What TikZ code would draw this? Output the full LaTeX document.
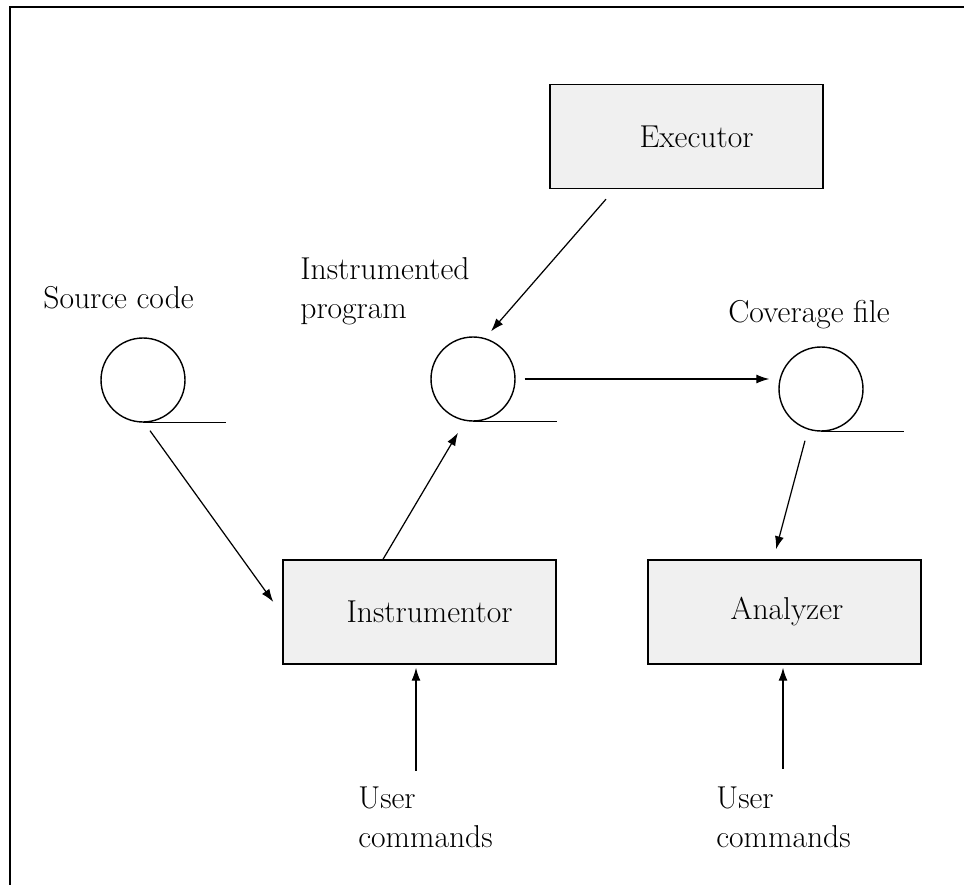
\documentclass[tikz,border=0pt]{standalone}
\usepackage{fontspec}
\usetikzlibrary{arrows.meta}
\tikzset{>={Latex[length=2.6mm,width=1.8mm]}}
\definecolor{boxgray}{RGB}{240,240,240}
\tikzstyle{procbox}=[draw,fill=boxgray,line width=0.8pt,minimum width=5.46cm,minimum height=2.08cm,inner sep=0pt]
\tikzstyle{reel}=[draw,circle,line width=0.8pt,minimum size=1.68cm,inner sep=0pt]
\tikzstyle{tape}=[line width=0.8pt]
\tikzstyle{flow}=[->,line width=0.7pt]
\tikzstyle{caption}=[align=left,inner sep=0pt,anchor=west]

\begin{document}
\begin{tikzpicture}[x=0.02cm,y=-0.02cm,font=\fontsize{18}{22}\selectfont]
    \useasboundingbox (0,0) rectangle (964,885);
    % frame, only the top and left edges fall inside
    \draw[line width=1.2pt] (10,885) -- (10,7) -- (964,7);

    \node[procbox] (exec) at (686.5,136.5) {\hspace*{0.4cm}Executor};
    \node[procbox] (instr) at (419.5,612) {\hspace*{0.4cm}Instrumentor};
    \node[procbox] (anal) at (784.5,612) {\hspace*{0.1cm}Analyzer};

    \node[reel] (src) at (143,380) {};
    \node[reel] (prog) at (473,379) {};
    \node[reel] (cov) at (821,389) {};
    \draw[tape] (src.south) -- ++(83,0);
    \draw[tape] (prog.south) -- ++(84,0);
    \draw[tape] (cov.south) -- ++(83,0);

    \node[caption] (srclbl) at (43,298) {Source code};
    \node[caption] (proglbl) at (300,291) {Instrumented\\program};
    \node[caption] (covlbl) at (728,315) {Coverage file};
    \node[caption] (user1) at (358,817) {User\\commands};
    \node[caption] (user2) at (716,817) {User\\commands};

    \draw[flow] ([shift={(7,8)}]src.south) -- ([shift={(-9,-10)}]instr.west);
    \draw[flow] ([shift={(-36.5,0)}]instr.north) -- ([shift={(-15,11)}]prog.south);
    \draw[flow] ([shift={(-80.5,10)}]exec.south) -- ([shift={(18,-5)}]prog.north);
    \draw[flow] ([shift={(9,0)}]prog.east) -- ([shift={(-9,-10)}]cov.west);
    \draw[flow] ([shift={(-16,9)}]cov.south) -- ([shift={(-8.5,-10)}]anal.north);
    \draw[flow] ([shift={(-3.5,106)}]instr.south) -- ([shift={(-3.5,3)}]instr.south);
    \draw[flow] ([shift={(-1.5,104)}]anal.south) -- ([shift={(-1.5,3)}]anal.south);
\end{tikzpicture}
\end{document}
